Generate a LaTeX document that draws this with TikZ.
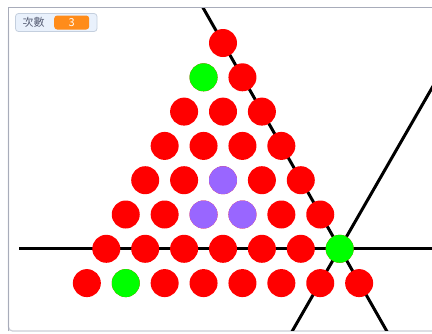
\documentclass[tikz,border=0pt]{standalone}
\usepackage{fontspec}
\newfontfamily\cjk{Noto Sans CJK TC}
\definecolor{ballred}{HTML}{FF0000}
\definecolor{ballgreen}{HTML}{00FF00}
\definecolor{ballpurple}{HTML}{9966FF}
\definecolor{stageedge}{HTML}{A8ACBA}
\definecolor{monfill}{HTML}{E9F1FC}
\definecolor{monedge}{HTML}{C4CFDE}
\definecolor{monorange}{HTML}{FF8C1A}
\definecolor{montext}{HTML}{575E75}
\tikzset{
  ball/.style={circle,inner sep=0pt,minimum size=28pt,fill=ballred},
  penline/.style={line width=3pt,black},
  monbox/.style={draw=monedge,fill=monfill,rounded corners=3pt,line width=0.8pt},
  monval/.style={fill=monorange,rounded corners=3pt,text=white,inner sep=0pt,minimum width=35pt,minimum height=14pt,font=\cjk\fontsize{11}{11}\selectfont},
  monlabel/.style={text=montext,inner sep=0pt,font=\cjk\fontsize{11}{11}\selectfont}
}
\begin{document}
\begin{tikzpicture}[x=1pt,y=-1pt]
\useasboundingbox (0,0) rectangle (432,333);
\fill[white] (0,0) rectangle (432,333);
% stage frame
\draw[stageedge!60!white,line width=1.2pt,rounded corners=4pt] (8.5,20) -- (8.5,331) -- (445,331);
\draw[stageedge,line width=1.2pt] (8.5,331) -- (8.5,7.5) -- (432,7.5);
\begin{scope}
\clip (9,8) rectangle (432,330.5);
% pen lines
\coordinate (g) at (339.7,248);
\coordinate (hl) at (19,248);
\coordinate (hr) at (440,248);
\coordinate (d1a) at (201.5,5);
\coordinate (d1b) at (389,335);
\coordinate (d2a) at (440,74);
\coordinate (d2b) at (290,335);
\draw[penline] (hl) -- (hr);
\draw[penline] (d1a) -- (d1b);
\draw[penline] (d2a) -- (d2b);
% balls
\foreach \k in {0,...,7}{
  \foreach \j in {0,...,\k}{
    \node[ball] (c-\k-\j) at ({223-\k*19.45+\j*38.9},{43+\k*34.3}) {};
  }
}
\node[ball,fill=ballgreen] at (c-1-0) {};
\node[ball,fill=ballgreen] at (c-6-6) {};
\node[ball,fill=ballgreen] at (c-7-1) {};
\node[ball,fill=ballpurple] at (c-4-2) {};
\node[ball,fill=ballpurple] at (c-5-2) {};
\node[ball,fill=ballpurple] at (c-5-3) {};
\end{scope}
% monitor
\draw[monbox] (15.5,13.5) rectangle (97,31.5);
\node[monlabel,anchor=west] (lbl) at (22.5,22.5) {次數};
\node[monval,anchor=west] (val) at (54,22.5) {3};
\end{tikzpicture}
\end{document}
